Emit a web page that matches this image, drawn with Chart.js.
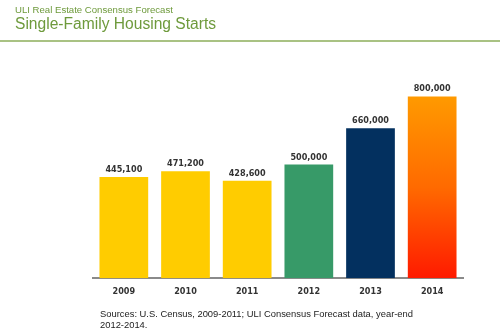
<!DOCTYPE html>
<html>
<head>
<meta charset="utf-8">
<script src="https://cdn.jsdelivr.net/npm/chart.js@4/dist/chart.umd.min.js"></script>
<style>
  html, body { margin: 0; padding: 0; background: #fff; }
  #wrap { position: relative; width: 500px; height: 334px; overflow: hidden; font-family: "Liberation Sans", Arial, sans-serif; }
  #c { position: absolute; left: 0; top: 0; }
  .sub { position: absolute; left: 15px; top: 4px; font-size: 9.6px; color: #6e9a3c; white-space: nowrap; }
  .title { position: absolute; left: 15px; top: 14.5px; font-size: 15.6px; color: #6e9a3c; white-space: nowrap; }
  .rule { position: absolute; left: 0; top: 40px; width: 500px; height: 1.5px; background: #a9c283; }
  .src { position: absolute; left: 100px; top: 307.5px; font-size: 9.4px; line-height: 11.5px; color: #222; }
</style>
</head>
<body>
<div id="wrap">
  <canvas id="c" width="500" height="334"></canvas>
  <div class="sub">ULI Real Estate Consensus Forecast</div>
  <div class="title">Single-Family Housing Starts</div>
  <div class="rule"></div>
  <div class="src">Sources: U.S. Census, 2009-2011; ULI Consensus Forecast data, year-end<br>2012-2014.</div>
</div>
<script>
const years = ["2009", "2010", "2011", "2012", "2013", "2014"];
const starts = [445100, 471200, 428600, 500000, 660000, 800000];
const valueLabels = ["445,100", "471,200", "428,600", "500,000", "660,000", "800,000"];

const solidColors = ["#ffcc00", "#ffcc00", "#ffcc00", "#379a68", "#03305f", null];

function barColor(ctx) {
  const i = ctx.dataIndex;
  if (solidColors[i]) return solidColors[i];
  const chart = ctx.chart;
  const area = chart.chartArea;
  const ys = chart.scales && chart.scales.y;
  if (!area || !ys) return "#ff8800";
  const top = ys.getPixelForValue(starts[i]);
  const bottom = ys.getPixelForValue(0);
  if (!isFinite(top) || !isFinite(bottom) || top === bottom) return "#ff8800";
  const g = chart.ctx.createLinearGradient(0, top, 0, bottom);
  g.addColorStop(0, "#ff9a00");
  g.addColorStop(0.5, "#ff6a00");
  g.addColorStop(1, "#ff1a00");
  return g;
}

const labelPlugin = {
  id: "valLabels",
  afterDatasetsDraw(chart) {
    const ctx = chart.ctx;
    const meta = chart.getDatasetMeta(0);
    ctx.save();
    ctx.font = "bold 9px 'DejaVu Sans Condensed', 'DejaVu Sans', sans-serif";
    ctx.fillStyle = "#333";
    ctx.textAlign = "center";
    ctx.textBaseline = "alphabetic";
    meta.data.forEach((el, i) => {
      ctx.fillText(valueLabels[i], el.x, el.y - 5);
    });
    ctx.restore();
  }
};

new Chart(document.getElementById("c"), {
  type: "bar",
  data: {
    labels: years,
    datasets: [{
      data: starts,
      backgroundColor: barColor,
      borderWidth: 0,
      categoryPercentage: 1,
      barPercentage: 0.79
    }]
  },
  options: {
    responsive: false,
    animation: false,
    events: [],
    layout: { padding: { left: 93, right: 37, top: 51, bottom: 29 } },
    plugins: { legend: { display: false }, tooltip: { enabled: false }, title: { display: false } },
    scales: {
      y: { display: false, min: 0, max: 1000000 },
      x: {
        grid: { display: false, drawTicks: false },
        border: { display: true, color: "#8a8a8a", width: 2 },
        ticks: {
          color: "#333",
          padding: 8,
          font: { family: "'DejaVu Sans Condensed', 'DejaVu Sans', sans-serif", size: 9, weight: "bold" }
        }
      }
    }
  },
  plugins: [labelPlugin]
});
</script>
</body>
</html>
